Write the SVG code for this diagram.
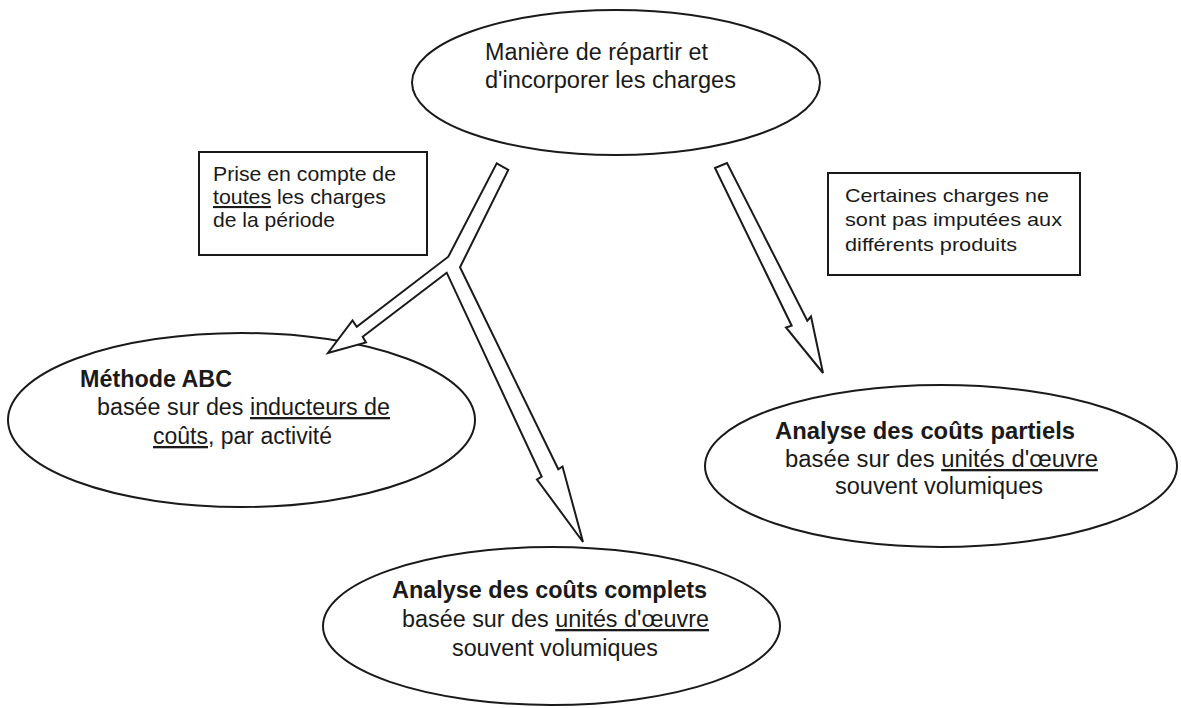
<svg xmlns="http://www.w3.org/2000/svg" width="1181" height="708" viewBox="0 0 1181 708">
<style>
.shape{fill:#fff;stroke:#1a1a1a;stroke-width:2}
.arrow{fill:#fff;stroke:#1a1a1a;stroke-width:2;stroke-linejoin:miter}
.t{font-family:"Liberation Sans",Arial,sans-serif;fill:#1a1a1a}
.r23{font-size:23px}
.b23{font-size:23px;font-weight:bold}
.r21{font-size:21px}
.r19{font-size:19px}
.u{text-decoration:underline}
.mid{text-anchor:middle}
</style>
<rect width="1181" height="708" fill="#fff"/>
<g id="node-top">
<ellipse class="shape" cx="616" cy="82.5" rx="204" ry="72.5"/>
<text class="t r23" x="485" y="60" textLength="223" lengthAdjust="spacingAndGlyphs">Manière de répartir et</text>
<text class="t r23" x="485" y="88" textLength="251" lengthAdjust="spacingAndGlyphs">d'incorporer les charges</text>
</g>
<g id="note-left">
<rect class="shape" x="199" y="152" width="228" height="103"/>
<text class="t r21" x="213" y="181" textLength="183" lengthAdjust="spacingAndGlyphs">Prise en compte de</text>
<text class="t r21" x="213" y="204" textLength="173" lengthAdjust="spacingAndGlyphs"><tspan class="u">toutes</tspan> les charges</text>
<text class="t r21" x="213" y="227" textLength="122" lengthAdjust="spacingAndGlyphs">de la période</text>
</g>
<g id="note-right">
<rect class="shape" x="828" y="173" width="252" height="102"/>
<text class="t r19" x="845" y="202" textLength="204" lengthAdjust="spacingAndGlyphs">Certaines charges ne</text>
<text class="t r19" x="845" y="226" textLength="217" lengthAdjust="spacingAndGlyphs">sont pas imputées aux</text>
<text class="t r19" x="845" y="251" textLength="172" lengthAdjust="spacingAndGlyphs">différents produits</text>
</g>
<g id="node-abc">
<ellipse class="shape" cx="241.5" cy="420" rx="233.5" ry="87"/>
<text class="t b23" x="80" y="387" textLength="152" lengthAdjust="spacingAndGlyphs">Méthode ABC</text>
<text class="t r23" x="97" y="415" textLength="293" lengthAdjust="spacingAndGlyphs">basée sur des <tspan class="u">inducteurs de</tspan></text>
<text class="t r23" x="153" y="444" textLength="179" lengthAdjust="spacingAndGlyphs"><tspan class="u">coûts</tspan>, par activité</text>
</g>
<g id="node-complets">
<ellipse class="shape" cx="551.5" cy="626" rx="228.5" ry="79"/>
<text class="t b23" x="392" y="598" textLength="315" lengthAdjust="spacingAndGlyphs">Analyse des coûts complets</text>
<text class="t r23" x="402" y="627" textLength="307" lengthAdjust="spacingAndGlyphs">basée sur des <tspan class="u">unités d'œuvre</tspan></text>
<text class="t r23" x="452" y="656" textLength="206" lengthAdjust="spacingAndGlyphs">souvent volumiques</text>
</g>
<g id="node-partiels">
<ellipse class="shape" cx="941" cy="466" rx="236" ry="81"/>
<text class="t b23" x="775" y="439" textLength="300" lengthAdjust="spacingAndGlyphs">Analyse des coûts partiels</text>
<text class="t r23" x="785" y="467" textLength="313" lengthAdjust="spacingAndGlyphs">basée sur des <tspan class="u">unités d'œuvre</tspan></text>
<text class="t r23" x="835" y="494" textLength="208" lengthAdjust="spacingAndGlyphs">souvent volumiques</text>
</g>
<g id="connectors">
<polygon class="arrow" points="496.7,163.3 508.3,170 460,267.3 558.3,469.3 562.5,466.5 583,542 537,479.5 541.7,476.7 446.7,272.7 362.7,336.7 366,342.5 328,353 352.5,320.5 356.7,326.7 448.3,256.7"/>
<polygon class="arrow" points="715,168 727,163 807.3,320.7 811,316.5 823,373 786,327.5 791.7,325.7"/>
</g>
</svg>
